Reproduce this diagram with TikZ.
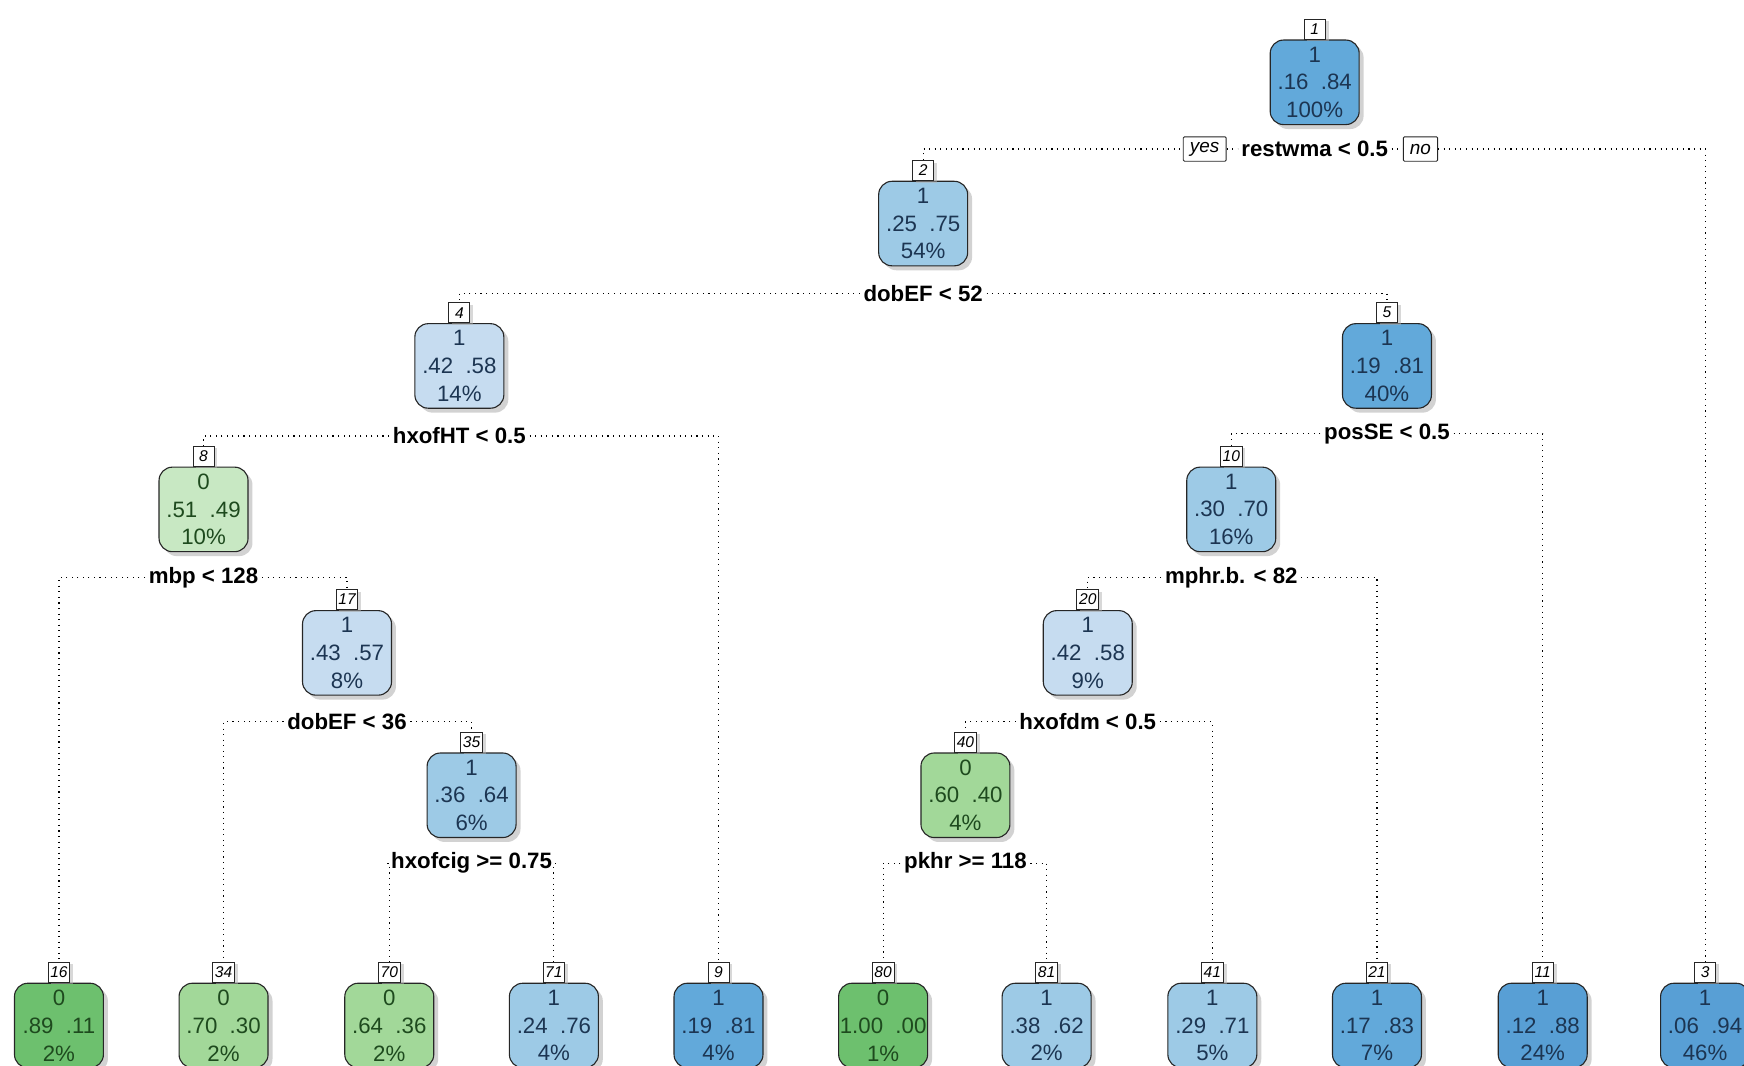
\documentclass[tikz,border=0pt]{standalone}
\usepackage{fontspec}
\setmainfont{Liberation Sans}
\usepackage{tikz}
\usetikzlibrary{positioning,shadows}

\definecolor{blueA}{HTML}{C6DCF0}
\definecolor{blueB}{HTML}{9DCAE6}
\definecolor{blueC}{HTML}{62A9DA}
\definecolor{blueD}{HTML}{589FD5}
\definecolor{greenA}{HTML}{C8E8C3}
\definecolor{greenB}{HTML}{A2D899}
\definecolor{greenC}{HTML}{6DC06E}
\definecolor{bluetext}{HTML}{1C3552}
\definecolor{greentext}{HTML}{1E4A1E}

\tikzset{
    leafbox/.style={rectangle, rounded corners=6pt, draw=black!85, line width=0.5pt,
        minimum width=40pt, minimum height=38pt, inner sep=0pt, align=center,
        font=\fontsize{10}{12.5}\selectfont,
        drop shadow={shadow xshift=2pt, shadow yshift=-2pt, fill=black!35}},
    bluebox/.style={leafbox, fill=#1, text=bluetext},
    greenbox/.style={leafbox, fill=#1, text=greentext},
    numbox/.style={rectangle, draw=black!85, fill=white, line width=0.4pt,
        minimum width=9.5pt, minimum height=9pt, inner sep=1pt,
        font=\fontsize{7}{8}\selectfont\itshape,
        drop shadow={shadow xshift=1.5pt, shadow yshift=-1pt, fill=black!30}},
    split/.style={fill=white, inner sep=1.5pt, font=\fontsize{10}{12}\selectfont\bfseries},
    answer/.style={draw=black!85, fill=white, inner xsep=3pt, inner ysep=1.5pt,
        minimum height=11pt, rounded corners=0.5pt,
        font=\fontsize{8.5}{9}\selectfont\itshape},
    link/.style={dotted, line width=0.5pt}
}

\begin{document}
\begin{tikzpicture}[x=0.5pt, y=-0.5pt]
    \useasboundingbox (0,0) rectangle (1568,958);
    \clip (0,0) rectangle (1568,958);

    % inner nodes
    \node[bluebox=blueC] (n1) at (1182,74) {1\\.16~~.84\\100\%};
    \node[bluebox=blueB] (n2) at (830,201) {1\\.25~~.75\\54\%};
    \node[bluebox=blueA] (n4) at (413,329) {1\\.42~~.58\\14\%};
    \node[bluebox=blueC] (n5) at (1247,329) {1\\.19~~.81\\40\%};
    \node[greenbox=greenA] (n8) at (183,458) {0\\.51~~.49\\10\%};
    \node[bluebox=blueB] (n10) at (1107,458) {1\\.30~~.70\\16\%};
    \node[bluebox=blueA] (n17) at (312,587) {1\\.43~~.57\\8\%};
    \node[bluebox=blueA] (n20) at (978,587) {1\\.42~~.58\\9\%};
    \node[bluebox=blueB] (n35) at (424,715) {1\\.36~~.64\\6\%};
    \node[greenbox=greenB] (n40) at (868,715) {0\\.60~~.40\\4\%};

    % leaves
    \node[greenbox=greenC] (n16) at (53,922) {0\\.89~~.11\\2\%};
    \node[greenbox=greenB] (n34) at (201,922) {0\\.70~~.30\\2\%};
    \node[greenbox=greenB] (n70) at (350,922) {0\\.64~~.36\\2\%};
    \node[bluebox=blueB] (n71) at (498,922) {1\\.24~~.76\\4\%};
    \node[bluebox=blueC] (n9) at (646,922) {1\\.19~~.81\\4\%};
    \node[greenbox=greenC] (n80) at (794,922) {0\\1.00~~.00\\1\%};
    \node[bluebox=blueB] (n81) at (941,922) {1\\.38~~.62\\2\%};
    \node[bluebox=blueB] (n41) at (1090,922) {1\\.29~~.71\\5\%};
    \node[bluebox=blueC] (n21) at (1238,922) {1\\.17~~.83\\7\%};
    \node[bluebox=blueD] (n11) at (1387,922) {1\\.12~~.88\\24\%};
    \node[bluebox=blueD] (n3) at (1533,922) {1\\.06~~.94\\46\%};

    % node numbers
    \foreach \k in {1,2,3,4,5,8,9,10,11,16,17,20,21,34,35,40,41,70,71,80,81}
        \node[numbox, above=0pt of n\k] (t\k) {\k};

    % split labels
    \node[split] (s1) at (1182,134) {restwma < 0.5};
    \node[answer, left=5pt of s1] (yes) {yes};
    \node[answer, right=5pt of s1] (no) {no};
    \node[split] (s2) at (830,264) {dobEF < 52};
    \node[split] (s4) at (413,392) {hxofHT < 0.5};
    \node[split] (s5) at (1247,390) {posSE < 0.5};
    \node[split] (s8) at (183,519) {mbp < 128};
    \node[split] (s10) at (1107,519) {mphr.b. < 82};
    \node[split] (s17) at (312,649) {dobEF < 36};
    \node[split] (s20) at (978,649) {hxofdm < 0.5};
    \node[split] (s35) at (424,776) {hxofcig >= 0.75};
    \node[split] (s40) at (868,776) {pkhr >= 118};

    % branches
    \draw[link] (t2.north) |- (yes.west);
    \draw[link] (yes.east) -- (s1.west);
    \draw[link] (s1.east) -- (no.west);
    \draw[link] (no.east) -| (t3.north);
    \draw[link] (s2.west) -| (t4.north);
    \draw[link] (s2.east) -| (t5.north);
    \draw[link] (s4.west) -| (t8.north);
    \draw[link] (s4.east) -| (t9.north);
    \draw[link] (s5.west) -| (t10.north);
    \draw[link] (s5.east) -| (t11.north);
    \draw[link] (s8.west) -| (t16.north);
    \draw[link] (s8.east) -| (t17.north);
    \draw[link] (s10.west) -| (t20.north);
    \draw[link] (s10.east) -| (t21.north);
    \draw[link] (s17.west) -| (t34.north);
    \draw[link] (s17.east) -| (t35.north);
    \draw[link] (s20.west) -| (t40.north);
    \draw[link] (s20.east) -| (t41.north);
    \draw[link] (s35.west) -| (t70.north);
    \draw[link] (s35.east) -| (t71.north);
    \draw[link] (s40.west) -| (t80.north);
    \draw[link] (s40.east) -| (t81.north);
\end{tikzpicture}
\end{document}
